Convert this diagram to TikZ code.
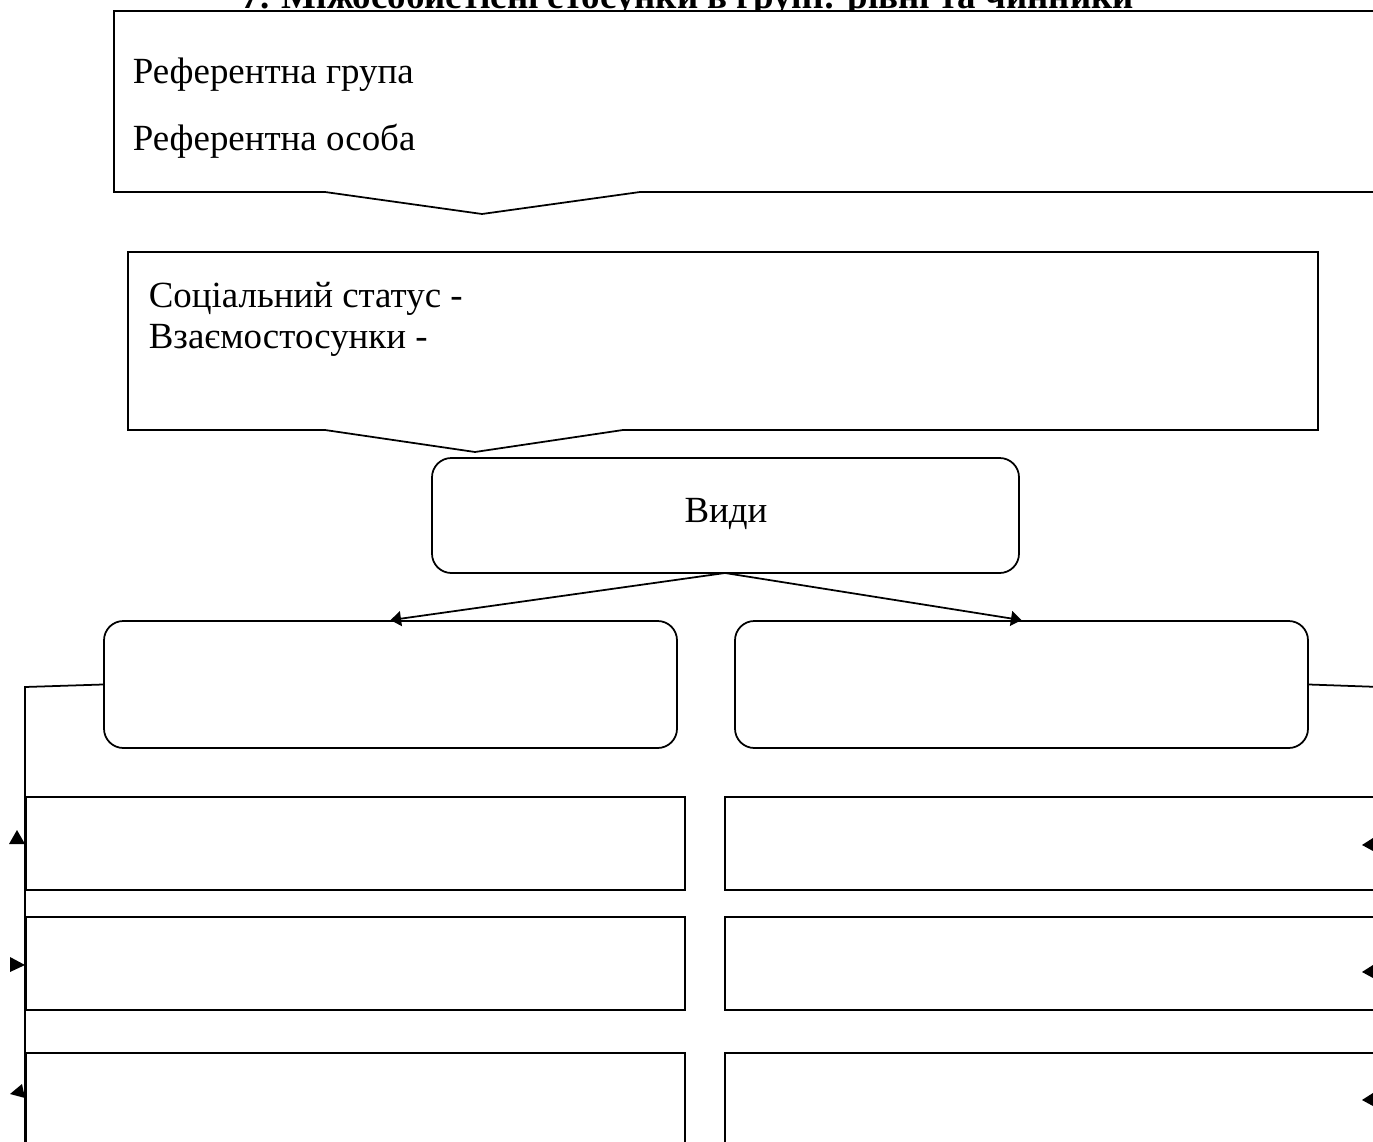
\documentclass[tikz,border=0pt]{standalone}
\usepackage{fontspec}
\setmainfont{Liberation Serif}
\usetikzlibrary{arrows.meta}
\begin{document}
\begin{tikzpicture}[x=0.02cm,y=-0.02cm,line width=1pt,
  txt/.style={inner sep=0pt,anchor=base west,font=\fontsize{21}{24}\selectfont},
  rbox/.style={draw,rounded corners=11pt,inner sep=0pt},
  sbox/.style={draw,inner sep=0pt},
  arr/.style={-{Triangle[length=6pt,width=8.5pt]}}]
\useasboundingbox (0,0) rectangle (1373,1142);
% title (cut at top, as in the reference)
\node[inner sep=0pt,anchor=base,font=\bfseries\fontsize{21}{24}\selectfont] (title) at (688,9) {7. Міжособистісні стосунки в групі: рівні та чинники};
% callout 1
\draw[fill=white] (1380,11) -- (114,11) -- (114,192) -- (325,192) -- (482,214) -- (640,192) -- (1380,192);
\node[txt] (rg) at (132,84) {Референтна група};
\node[txt] (ro) at (132,151) {Референтна особа};
% callout 2
\draw (128,252) -- (1318,252) -- (1318,430) -- (623,430) -- (475,452) -- (325,430) -- (128,430) -- cycle;
\node[txt] (ss) at (148,308) {Соціальний статус -};
\node[txt] (vz) at (148,348) {Взаємостосунки -};
% Види
\node[rbox,minimum width=587*0.02cm,minimum height=115*0.02cm] (vydy) at (725.5,515.5) {};
\node[inner sep=0pt,anchor=base,font=\fontsize{21}{24}\selectfont] (vt) at (726,522) {Види};
% kind boxes
\node[rbox,minimum width=573*0.02cm,minimum height=127*0.02cm] (kl) at (390.5,684.5) {};
\node[rbox,minimum width=573*0.02cm,minimum height=127*0.02cm] (kr) at (1021.5,684.5) {};
\coordinate (vb) at (725,573);
\draw[arr] (vb) -- (kl.north);
\draw[arr] (vb) -- (kr.north);
% side connectors
\coordinate (lc) at (25,687);
\coordinate (lb) at (25,1150);
\coordinate (rc) at (1380,687);
\draw (kl.west) -- (lc) -- (lb);
\draw (kr.east) -- (rc);
% rows left
\node[sbox,minimum width=659*0.02cm,minimum height=93*0.02cm] (l1) at (355.5,843.5) {};
\node[sbox,minimum width=659*0.02cm,minimum height=93*0.02cm] (l2) at (355.5,963.5) {};
\draw (685,1150) -- (685,1053) -- (26,1053) -- (26,1150);
% rows right
\draw (1380,797) -- (725,797) -- (725,890) -- (1380,890);
\draw (1380,917) -- (725,917) -- (725,1010) -- (1380,1010);
\draw (1380,1053) -- (725,1053) -- (725,1150);
% arrowheads at left
\fill (9,844) -- (25,844) -- (17,830) -- cycle;
\fill (10,957) -- (10,972) -- (25,965) -- cycle;
\fill (10,1094) -- (25,1098) -- (22,1084) -- cycle;
% arrowheads at right
\fill (1373,838) -- (1373,851) -- (1362,845) -- cycle;
\fill (1373,965) -- (1373,978) -- (1362,972) -- cycle;
\fill (1373,1093) -- (1373,1106) -- (1362,1100) -- cycle;
\end{tikzpicture}
\end{document}
